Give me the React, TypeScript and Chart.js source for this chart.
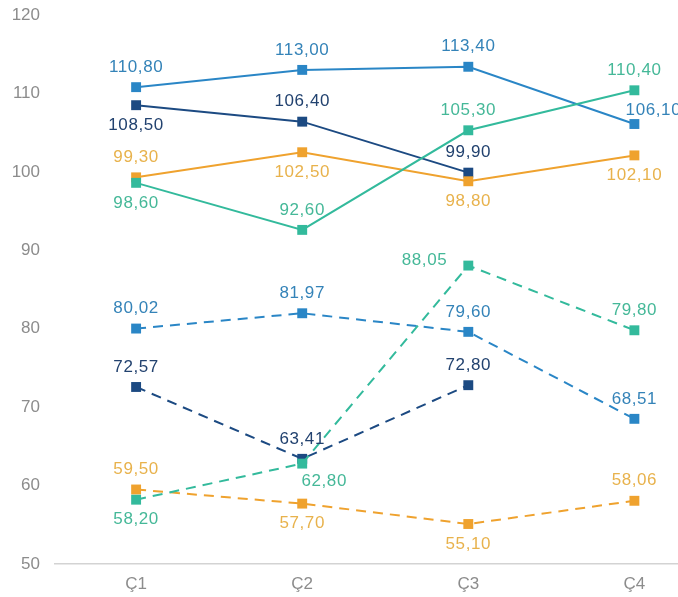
import React, { useEffect, useRef } from 'react';
import { Chart, registerables } from 'chart.js';
Chart.register(...registerables);

const categories = ['Ç1', 'Ç2', 'Ç3', 'Ç4'];
const yTickValues = [50, 60, 70, 80, 90, 100, 110, 120];

const blueSolid = [110.8, 113.0, 113.4, 106.1];
const navySolid = [108.5, 106.4, 99.9, null];
const orangeSolid = [99.3, 102.5, 98.8, 102.1];
const tealSolid = [98.6, 92.6, 105.3, 110.4];
const blueDashed = [80.02, 81.97, 79.6, 68.51];
const navyDashed = [72.57, 63.41, 72.8, null];
const orangeDashed = [59.5, 57.7, 55.1, 58.06];
const tealDashed = [58.2, 62.8, 88.05, 79.8];

// label placement per point: a=above, b=below, ar=above-right, br=below-right, l=left
const blueSolidPos = ['a', 'a', 'a', 'ar'];
const navySolidPos = ['b', 'a', 'a', 'a'];
const orangeSolidPos = ['a', 'b', 'b', 'b'];
const tealSolidPos = ['b', 'a', 'a', 'a'];
const blueDashedPos = ['a', 'a', 'a', 'a'];
const navyDashedPos = ['a', 'a', 'a', 'a'];
const orangeDashedPos = ['a', 'b', 'b', 'a'];
const tealDashedPos = ['b', 'br', 'l', 'a'];

const BLUE = '#2A86C6';
const NAVY = '#1C4A82';
const ORANGE = '#EFA22E';
const TEAL = '#33BA9C';
const BLUE_T = '#3483B8';
const NAVY_T = '#22426F';
const ORANGE_T = '#E8B24C';
const TEAL_T = '#45B898';

const FONT = '"Liberation Sans", Arial, Helvetica, sans-serif';

function fmt(v: number) {
  return v.toFixed(2).replace('.', ',');
}

const labelPlugin = {
  id: 'pointLabels',
  afterDatasetsDraw(chart: any) {
    const ctx = chart.ctx;
    ctx.save();
    ctx.font = `17px ${FONT}`;
    try { ctx.letterSpacing = '0.6px'; } catch (e) { /* ignore */ }
    ctx.textBaseline = 'middle';
    chart.data.datasets.forEach((ds: any, di: number) => {
      const meta = chart.getDatasetMeta(di);
      meta.data.forEach((pt: any, i: number) => {
        const v = ds.data[i]?.y;
        if (v === null || v === undefined) return;
        const pos = ds.labelPos[i];
        let x = pt.x;
        let y = pt.y;
        ctx.textAlign = 'center';
        if (pos === 'a') y -= 20;
        else if (pos === 'b') y += 20;
        else if (pos === 'ar') { y -= 14; x += 19; }
        else if (pos === 'br') { y += 18; x += 22; }
        else if (pos === 'l') { y -= 5; x -= 21; ctx.textAlign = 'right'; }
        ctx.fillStyle = ds.labelColor;
        ctx.fillText(fmt(v), x, y);
      });
    });
    ctx.restore();
  },
};

function mk(label: string, values: (number | null)[], color: string, textColor: string, pos: string[], dashed: boolean) {
  return {
    label,
    data: values.map((v, i) => ({ x: i, y: v })),
    borderColor: color,
    backgroundColor: color,
    borderWidth: 2,
    borderDash: dashed ? [10, 7] : [],
    pointStyle: 'rect',
    pointRadius: 7,
    pointHoverRadius: 7,
    pointBorderWidth: 0,
    pointBackgroundColor: color,
    tension: 0,
    labelColor: textColor,
    labelPos: pos,
  };
}

export default function App() {
  const ref = useRef<HTMLCanvasElement>(null);
  useEffect(() => {
    document.body.style.margin = '0';
    const chart = new Chart(ref.current as HTMLCanvasElement, {
      type: 'line',
      data: {
        datasets: [
          mk('tealDashed', tealDashed, TEAL, TEAL_T, tealDashedPos, true),
          mk('orangeDashed', orangeDashed, ORANGE, ORANGE_T, orangeDashedPos, true),
          mk('navyDashed', navyDashed, NAVY, NAVY_T, navyDashedPos, true),
          mk('blueDashed', blueDashed, BLUE, BLUE_T, blueDashedPos, true),
          mk('tealSolid', tealSolid, TEAL, TEAL_T, tealSolidPos, false),
          mk('orangeSolid', orangeSolid, ORANGE, ORANGE_T, orangeSolidPos, false),
          mk('navySolid', navySolid, NAVY, NAVY_T, navySolidPos, false),
          mk('blueSolid', blueSolid, BLUE, BLUE_T, blueSolidPos, false),
        ] as any,
      },
      options: {
        animation: false,
        responsive: false,
        maintainAspectRatio: false,
        layout: { padding: { top: 15, right: 0, bottom: 0, left: 0 } },
        plugins: { legend: { display: false }, tooltip: { enabled: false } },
        scales: {
          x: {
            type: 'linear',
            min: -0.4883,
            max: 3.2625,
            afterBuildTicks: (s: any) => {
              s.ticks = categories.map((_, i) => ({ value: i }));
            },
            afterFit: (s: any) => {
              s.height = 33;
              s.paddingLeft = 0;
              s.paddingRight = 0;
            },
            grid: { display: false, drawTicks: false },
            border: { display: true, color: '#D3D3D3', width: 1.5 },
            ticks: {
              padding: 10,
              color: '#8C8C8C',
              font: { size: 17, family: FONT },
              callback: (v: any) => categories[v] ?? '',
              maxRotation: 0,
              autoSkip: false,
            },
          },
          y: {
            min: 50,
            max: 120,
            afterBuildTicks: (s: any) => {
              s.ticks = yTickValues.map((v) => ({ value: v }));
            },
            afterFit: (s: any) => {
              s.width = 55;
              s.paddingTop = 0;
              s.paddingBottom = 0;
            },
            grid: { display: false, drawTicks: false },
            border: { display: false },
            ticks: {
              padding: 15,
              color: '#8C8C8C',
              font: { size: 17, family: FONT },
            },
          },
        },
      },
      plugins: [labelPlugin],
    } as any);
    return () => chart.destroy();
  }, []);
  return (
    <div style={{ width: 678, height: 597, overflow: 'hidden' }}>
      <canvas ref={ref} width={685} height={597} style={{ display: 'block' }} />
    </div>
  );
}
